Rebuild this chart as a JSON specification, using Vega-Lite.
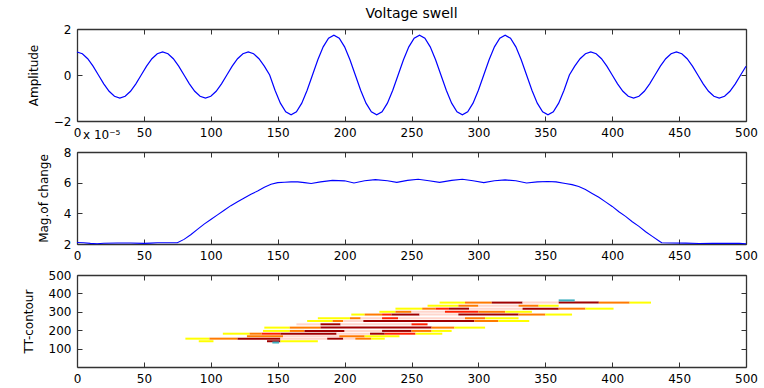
{
  "$schema": "https://vega.github.io/schema/vega-lite/v6.json",
  "background": "white",
  "padding": {"left": 22, "top": 7, "right": 5, "bottom": 2},
  "bounds": "flush",
  "spacing": 31,
  "config": {
    "font": "DejaVu Sans",
    "view": {"stroke": null},
    "axis": {
      "grid": false,
      "domainColor": "#333333",
      "domainWidth": 1.3,
      "tickColor": "#333333",
      "tickSize": -5,
      "labelPadding": 11,
      "labelFont": "DejaVu Sans",
      "labelFontSize": 12,
      "labelColor": "#000000",
      "labelFlush": false,
      "labelOverlap": false,
      "titleFont": "DejaVu Sans",
      "titleFontSize": 12,
      "titleFontWeight": "normal",
      "titleColor": "#000000",
      "titlePadding": 13
    },
    "title": {"font": "DejaVu Sans", "fontWeight": "normal", "color": "#000000"}
  },
  "datasets": {
    "wave": [
      {"t":0,"v":1},{"t":4,"v":0.924},{"t":8,"v":0.707},{"t":12,"v":0.383},{"t":16,"v":0},{"t":20,"v":-0.383},{"t":24,"v":-0.707},{"t":28,"v":-0.924},
      {"t":32,"v":-1},{"t":36,"v":-0.924},{"t":40,"v":-0.707},{"t":44,"v":-0.383},{"t":48,"v":0},{"t":52,"v":0.383},{"t":56,"v":0.707},{"t":60,"v":0.924},
      {"t":64,"v":1},{"t":68,"v":0.924},{"t":72,"v":0.707},{"t":76,"v":0.383},{"t":80,"v":0},{"t":84,"v":-0.383},{"t":88,"v":-0.707},{"t":92,"v":-0.924},
      {"t":96,"v":-1},{"t":100,"v":-0.924},{"t":104,"v":-0.707},{"t":108,"v":-0.383},{"t":112,"v":0},{"t":116,"v":0.383},{"t":120,"v":0.707},{"t":124,"v":0.924},
      {"t":128,"v":1},{"t":132,"v":0.924},{"t":136,"v":0.707},{"t":140,"v":0.383},{"t":144,"v":0},{"t":148,"v":-0.663},{"t":152,"v":-1.223},{"t":156,"v":-1.598},
      {"t":160,"v":-1.73},{"t":164,"v":-1.598},{"t":168,"v":-1.223},{"t":172,"v":-0.663},{"t":176,"v":0},{"t":180,"v":0.663},{"t":184,"v":1.223},{"t":188,"v":1.598},
      {"t":192,"v":1.73},{"t":196,"v":1.598},{"t":200,"v":1.223},{"t":204,"v":0.663},{"t":208,"v":0},{"t":212,"v":-0.663},{"t":216,"v":-1.223},{"t":220,"v":-1.598},
      {"t":224,"v":-1.73},{"t":228,"v":-1.598},{"t":232,"v":-1.223},{"t":236,"v":-0.663},{"t":240,"v":0},{"t":244,"v":0.663},{"t":248,"v":1.223},{"t":252,"v":1.598},
      {"t":256,"v":1.73},{"t":260,"v":1.598},{"t":264,"v":1.223},{"t":268,"v":0.663},{"t":272,"v":0},{"t":276,"v":-0.663},{"t":280,"v":-1.223},{"t":284,"v":-1.598},
      {"t":288,"v":-1.73},{"t":292,"v":-1.598},{"t":296,"v":-1.223},{"t":300,"v":-0.663},{"t":304,"v":0},{"t":308,"v":0.663},{"t":312,"v":1.223},{"t":316,"v":1.598},
      {"t":320,"v":1.73},{"t":324,"v":1.598},{"t":328,"v":1.223},{"t":332,"v":0.663},{"t":336,"v":0},{"t":340,"v":-0.663},{"t":344,"v":-1.223},{"t":348,"v":-1.598},
      {"t":352,"v":-1.73},{"t":356,"v":-1.598},{"t":360,"v":-1.223},{"t":364,"v":-0.663},{"t":368,"v":0},{"t":372,"v":0.383},{"t":376,"v":0.707},{"t":380,"v":0.924},
      {"t":384,"v":1},{"t":388,"v":0.924},{"t":392,"v":0.707},{"t":396,"v":0.383},{"t":400,"v":0},{"t":404,"v":-0.383},{"t":408,"v":-0.707},{"t":412,"v":-0.924},
      {"t":416,"v":-1},{"t":420,"v":-0.924},{"t":424,"v":-0.707},{"t":428,"v":-0.383},{"t":432,"v":0},{"t":436,"v":0.383},{"t":440,"v":0.707},{"t":444,"v":0.924},
      {"t":448,"v":1},{"t":452,"v":0.924},{"t":456,"v":0.707},{"t":460,"v":0.383},{"t":464,"v":0},{"t":468,"v":-0.383},{"t":472,"v":-0.707},{"t":476,"v":-0.924},
      {"t":480,"v":-1},{"t":484,"v":-0.924},{"t":488,"v":-0.707},{"t":492,"v":-0.383},{"t":496,"v":0},{"t":500,"v":0.383}
    ],
    "mag": [
      {"t":0,"m":2.1},{"t":5,"m":2.08},{"t":10,"m":2.04},{"t":15,"m":2.02},{"t":20,"m":2.05},{"t":30,"m":2.07},{"t":40,"m":2.07},{"t":50,"m":2.04},
      {"t":55,"m":2.06},{"t":60,"m":2.08},{"t":70,"m":2.08},{"t":75,"m":2.08},{"t":80,"m":2.3},{"t":85,"m":2.6},{"t":90,"m":2.95},{"t":95,"m":3.3},
      {"t":100,"m":3.6},{"t":105,"m":3.9},{"t":110,"m":4.2},{"t":115,"m":4.5},{"t":120,"m":4.75},{"t":125,"m":5.0},{"t":130,"m":5.25},{"t":135,"m":5.45},
      {"t":140,"m":5.7},{"t":145,"m":5.9},{"t":150,"m":6.0},{"t":155,"m":6.03},{"t":160,"m":6.05},{"t":165,"m":6.05},{"t":170,"m":6.0},{"t":175,"m":5.95},
      {"t":182,"m":6.05},{"t":191,"m":6.15},{"t":200,"m":6.12},{"t":207,"m":5.98},{"t":215,"m":6.12},{"t":223,"m":6.2},{"t":232,"m":6.12},{"t":239,"m":6.02},
      {"t":247,"m":6.15},{"t":255,"m":6.22},{"t":263,"m":6.12},{"t":271,"m":6.02},{"t":280,"m":6.15},{"t":288,"m":6.22},{"t":296,"m":6.12},{"t":304,"m":6.0},
      {"t":312,"m":6.12},{"t":320,"m":6.18},{"t":328,"m":6.12},{"t":336,"m":5.98},{"t":344,"m":6.05},{"t":352,"m":6.08},{"t":358,"m":6.05},{"t":365,"m":5.95},
      {"t":370,"m":5.87},{"t":375,"m":5.75},{"t":380,"m":5.55},{"t":385,"m":5.3},{"t":390,"m":5.05},{"t":395,"m":4.75},{"t":400,"m":4.45},{"t":405,"m":4.1},
      {"t":410,"m":3.8},{"t":415,"m":3.45},{"t":420,"m":3.15},{"t":425,"m":2.8},{"t":430,"m":2.5},{"t":435,"m":2.2},{"t":437,"m":2.08},{"t":445,"m":2.07},
      {"t":455,"m":2.06},{"t":465,"m":2.03},{"t":475,"m":2.04},{"t":485,"m":2.05},{"t":495,"m":2.04},{"t":500,"m":2.02}
    ],
    "tt": [
      {"f":140,"a":91,"b":102,"c":"1"},{"f":140,"a":142,"b":152,"c":"4"},{"f":140,"a":152,"b":180,"c":"1"},{"f":133,"a":146,"b":151,"c":"6"},
      {"f":154,"a":81,"b":99,"c":"1"},{"f":154,"a":99,"b":120,"c":"2"},{"f":154,"a":120,"b":152,"c":"4"},{"f":154,"a":152,"b":187,"c":"5"},
      {"f":154,"a":187,"b":199,"c":"4"},{"f":154,"a":199,"b":208,"c":"5"},{"f":154,"a":208,"b":220,"c":"2"},{"f":154,"a":220,"b":230,"c":"1"},
      {"f":167,"a":127,"b":154,"c":"2"},{"f":167,"a":154,"b":196,"c":"5"},{"f":167,"a":196,"b":215,"c":"2"},{"f":167,"a":215,"b":241,"c":"1"},
      {"f":181,"a":109,"b":129,"c":"1"},{"f":181,"a":129,"b":138,"c":"2"},{"f":181,"a":138,"b":152,"c":"3"},{"f":181,"a":152,"b":194,"c":"4"},
      {"f":181,"a":194,"b":219,"c":"5"},{"f":181,"a":219,"b":230,"c":"4"},{"f":181,"a":230,"b":253,"c":"3"},{"f":181,"a":253,"b":273,"c":"1"},
      {"f":196,"a":139,"b":159,"c":"1"},{"f":196,"a":159,"b":170,"c":"2"},{"f":196,"a":170,"b":200,"c":"4"},{"f":196,"a":200,"b":228,"c":"5"},
      {"f":196,"a":228,"b":250,"c":"4"},{"f":196,"a":250,"b":265,"c":"2"},{"f":196,"a":265,"b":280,"c":"1"},
      {"f":214,"a":140,"b":159,"c":"1"},{"f":214,"a":159,"b":182,"c":"2"},{"f":214,"a":182,"b":265,"c":"4"},{"f":214,"a":265,"b":282,"c":"2"},{"f":214,"a":282,"b":305,"c":"1"},
      {"f":232,"a":164,"b":182,"c":"5"},{"f":232,"a":182,"b":197,"c":"4"},{"f":232,"a":197,"b":250,"c":"5"},{"f":232,"a":250,"b":262,"c":"3"},
      {"f":250,"a":172,"b":191,"c":"1"},{"f":250,"a":191,"b":199,"c":"2"},{"f":250,"a":199,"b":214,"c":"5"},{"f":250,"a":214,"b":297,"c":"4"},
      {"f":250,"a":297,"b":315,"c":"2"},{"f":250,"a":315,"b":338,"c":"1"},
      {"f":265,"a":180,"b":204,"c":"1"},{"f":265,"a":204,"b":212,"c":"2"},{"f":265,"a":212,"b":228,"c":"5"},{"f":265,"a":228,"b":240,"c":"3"},
      {"f":265,"a":240,"b":290,"c":"5"},{"f":265,"a":290,"b":305,"c":"2"},{"f":265,"a":305,"b":330,"c":"1"},
      {"f":285,"a":205,"b":215,"c":"1"},{"f":285,"a":215,"b":228,"c":"2"},{"f":285,"a":228,"b":235,"c":"3"},{"f":285,"a":235,"b":256,"c":"4"},
      {"f":285,"a":256,"b":285,"c":"5"},{"f":285,"a":285,"b":330,"c":"4"},{"f":285,"a":330,"b":350,"c":"2"},{"f":285,"a":350,"b":370,"c":"1"},
      {"f":300,"a":226,"b":238,"c":"1"},{"f":300,"a":238,"b":250,"c":"2"},{"f":300,"a":250,"b":275,"c":"5"},{"f":300,"a":275,"b":300,"c":"3"},
      {"f":300,"a":300,"b":320,"c":"2"},{"f":300,"a":320,"b":340,"c":"1"},
      {"f":317,"a":238,"b":258,"c":"1"},{"f":317,"a":258,"b":268,"c":"2"},{"f":317,"a":268,"b":278,"c":"3"},{"f":317,"a":278,"b":293,"c":"4"},
      {"f":317,"a":293,"b":333,"c":"5"},{"f":317,"a":333,"b":360,"c":"4"},{"f":317,"a":360,"b":380,"c":"2"},{"f":317,"a":380,"b":401,"c":"1"},
      {"f":333,"a":262,"b":285,"c":"1"},{"f":333,"a":285,"b":300,"c":"2"},{"f":333,"a":300,"b":330,"c":"5"},{"f":333,"a":330,"b":345,"c":"2"},{"f":333,"a":345,"b":360,"c":"1"},
      {"f":350,"a":271,"b":290,"c":"1"},{"f":350,"a":290,"b":310,"c":"2"},{"f":350,"a":310,"b":333,"c":"4"},{"f":350,"a":333,"b":360,"c":"5"},
      {"f":350,"a":360,"b":390,"c":"4"},{"f":350,"a":390,"b":413,"c":"2"},{"f":350,"a":413,"b":429,"c":"1"},
      {"f":362,"a":360,"b":372,"c":"6"}
    ]
  },
  "vconcat": [
    {
      "width": 669,
      "height": 92,
      "title": {"text": "Voltage swell", "fontSize": 14, "fontWeight": "normal", "anchor": "middle", "frame": "group", "offset": 2},
      "data": {"name": "wave"},
      "resolve": {"axis": {"x": "independent", "y": "independent"}},
      "layer": [
        {
          "mark": {"type": "line", "color": "#0000ff", "strokeWidth": 1.2},
          "encoding": {
            "x": {"field": "t", "type": "quantitative", "scale": {"domain": [0, 500], "nice": false},
                  "axis": {"title": null, "values": [0,50,100,150,200,250,300,350,400,450,500]}},
            "y": {"field": "v", "type": "quantitative", "scale": {"domain": [-2, 2], "nice": false},
                  "axis": {"title": "Amplitude", "values": [-2, 0, 2]}}
          }
        },
        {
          "mark": {"type": "line", "opacity": 0},
          "encoding": {
            "x": {"field": "t", "type": "quantitative",
                  "axis": {"orient": "top", "labels": false, "title": null, "values": [0,50,100,150,200,250,300,350,400,450,500]}},
            "y": {"field": "v", "type": "quantitative",
                  "axis": {"orient": "right", "labels": false, "title": null, "values": [-2, 0, 2]}}
          }
        }
      ]
    },
    {
      "width": 669,
      "height": 92,
      "title": {"text": "x 10⁻⁵", "fontSize": 12, "fontWeight": "normal", "anchor": "start", "frame": "group", "offset": 4, "dx": 6},
      "data": {"name": "mag"},
      "resolve": {"axis": {"x": "independent", "y": "independent"}},
      "layer": [
        {
          "mark": {"type": "line", "color": "#0000ff", "strokeWidth": 1.1},
          "encoding": {
            "x": {"field": "t", "type": "quantitative", "scale": {"domain": [0, 500], "nice": false},
                  "axis": {"title": null, "values": [0,50,100,150,200,250,300,350,400,450,500]}},
            "y": {"field": "m", "type": "quantitative", "scale": {"domain": [2, 8], "nice": false},
                  "axis": {"title": "Mag.of change", "values": [2, 4, 6, 8]}}
          }
        },
        {
          "mark": {"type": "line", "opacity": 0},
          "encoding": {
            "x": {"field": "t", "type": "quantitative",
                  "axis": {"orient": "top", "labels": false, "title": null, "values": [0,50,100,150,200,250,300,350,400,450,500]}},
            "y": {"field": "m", "type": "quantitative",
                  "axis": {"orient": "right", "labels": false, "title": null, "values": [2, 4, 6, 8]}}
          }
        }
      ]
    },
    {
      "width": 669,
      "height": 92,
      "data": {"name": "tt"},
      "resolve": {"axis": {"x": "independent", "y": "independent"}},
      "layer": [
        {
          "mark": {"type": "rule", "strokeWidth": 2},
          "encoding": {
            "x": {"field": "a", "type": "quantitative", "scale": {"domain": [0, 500], "nice": false},
                  "axis": {"title": null, "values": [0,50,100,150,200,250,300,350,400,450,500]}},
            "x2": {"field": "b"},
            "y": {"field": "f", "type": "quantitative", "scale": {"domain": [0, 500], "nice": false},
                  "axis": {"title": "TT-contour", "values": [100, 200, 300, 400, 500]}},
            "color": {"field": "c", "type": "nominal", "legend": null,
                      "scale": {"domain": ["1","2","3","4","5","6"], "range": ["#ffff00","#ff7a00","#ff2000","#a00000","#ffd6cc","#40b0c0"]}}
          }
        },
        {
          "mark": {"type": "point", "opacity": 0},
          "encoding": {
            "x": {"field": "a", "type": "quantitative",
                  "axis": {"orient": "top", "labels": false, "title": null, "values": [0,50,100,150,200,250,300,350,400,450,500]}},
            "y": {"field": "f", "type": "quantitative",
                  "axis": {"orient": "right", "labels": false, "title": null, "values": [100, 200, 300, 400, 500]}}
          }
        }
      ]
    }
  ]
}
